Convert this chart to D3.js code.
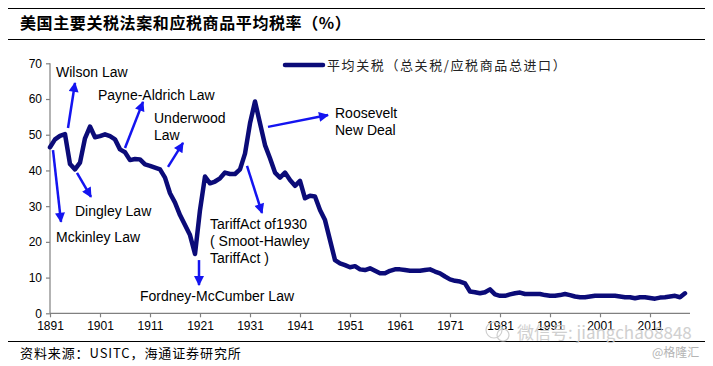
<!DOCTYPE html>
<html><head><meta charset="utf-8">
<script src="https://cdn.jsdelivr.net/npm/d3@7"></script>
<style>
body{margin:0;background:#fff;}
svg{display:block;}
</style></head>
<body>
<svg id="chart" width="713" height="366"></svg>
<script>
const titleText = "美国主要关税法案和应税商品平均税率（%）";
const legendLabel = "平均关税（总关税/应税商品总进口）";
const sourceText = "资料来源：USITC，海通证券研究所";
const years = d3.range(1891, 2019);
const tariff = [
 46.5,48.7,49.7,50.2,41.8,40.3,42.2,49.0,52.3,49.3,
 49.6,50.1,49.6,48.7,45.9,45.1,42.9,43.2,43.1,41.7,
 41.3,40.8,40.3,38.0,33.6,31.0,27.5,24.7,21.9,16.6,
 28.9,38.3,36.4,36.9,37.8,39.4,39.0,39.0,40.3,44.7,
 53.2,59.3,53.2,47.1,43.4,39.4,38.0,39.4,37.3,35.7,
 37.1,32.2,32.9,32.7,28.9,26.1,20.5,14.9,14.0,13.5,
 12.9,13.2,12.3,12.1,12.6,11.9,11.2,11.2,11.9,12.3,
 12.3,12.1,11.9,11.9,11.9,12.1,12.3,11.7,11.2,10.3,
 9.5,9.1,8.9,8.4,6.1,5.9,5.6,5.9,6.7,5.3,
 4.9,4.9,5.3,5.6,5.8,5.4,5.4,5.4,5.4,5.1,
 4.9,4.9,5.1,5.4,5.1,4.7,4.5,4.5,4.7,4.9,
 4.9,4.9,4.9,4.9,4.7,4.5,4.5,4.2,4.5,4.5,
 4.3,4.1,4.4,4.5,4.7,4.9,4.5,5.6
];
const xTicks = [1891,1901,1911,1921,1931,1941,1951,1961,1971,1981,1991,2001,2011];
const yTicks = [0,10,20,30,40,50,60,70];
// annotations: label lines, text anchor (year,value), arrow from/to (year,value)
const annLabels = [["Wilson Law"],["Payne-Aldrich Law"],["Underwood","Law"],["Dingley Law"],["Mckinley Law"],["Fordney-McCumber Law"],["TariffAct of1930","( Smoot-Hawley","TariffAct )"],["Roosevelt","New Deal"]];
const annTextPos = [[1892.2,66.2],[1900.6,59.7],[1911.8,53.3],[1896,27.2],[1892.2,20.0],[1909,3.4],[1923,23.6],[1948,54.7]];
const annArrowFrom = [[1894.6,51.9],[1906,46.3],[1914.6,41],[1896.4,39.3],[1891.6,45.7],[1920.8,14.9],[1930.4,41.3],[1934.6,52.2]];
const annArrowTo = [[1896,64.5],[1909.6,59.2],[1917.6,47.7],[1899.2,32.6],[1893.2,25.6],[1920.8,7.9],[1933.4,28.1],[1946.6,55.5]];

const svg = d3.select("#chart");
const x = d3.scaleLinear().domain([1891, 2019]).range([50, 690]);
const y = d3.scaleLinear().domain([0, 70]).range([313.3, 63.3]);
const latin = "'Liberation Sans', Arial, sans-serif";
const cjk = "'Noto Sans CJK SC', sans-serif";

// title & rules
svg.append("line").attr("x1",8).attr("x2",705).attr("y1",8.5).attr("y2",8.5).attr("stroke","#000").attr("stroke-width",1.2);
svg.append("line").attr("x1",8).attr("x2",705).attr("y1",39.5).attr("y2",39.5).attr("stroke","#000").attr("stroke-width",1.2);
svg.append("text").attr("x",20).attr("y",29).text(titleText)
  .attr("font-family",cjk).attr("font-weight","bold").attr("font-size",16).attr("letter-spacing",0.6).attr("fill","#000");
svg.append("line").attr("x1",8).attr("x2",705).attr("y1",341.5).attr("y2",341.5).attr("stroke","#000").attr("stroke-width",1.2);
svg.append("text").attr("x",20).attr("y",358).text(sourceText)
  .attr("font-family",cjk).attr("font-size",13).attr("letter-spacing",0.9).attr("fill","#000");

// axes
const axisColor = "#808080";
const gy = svg.append("g").attr("transform","translate(50,0)")
  .call(d3.axisLeft(y).tickValues(yTicks).tickSize(4).tickPadding(4).tickFormat(d3.format("d")));
const gx = svg.append("g").attr("transform","translate(0,313.3)")
  .call(d3.axisBottom(x).tickValues(xTicks).tickSize(4).tickPadding(4).tickFormat(d3.format("d")));
[gx,gy].forEach(g=>{
  g.select(".domain").attr("stroke",axisColor).attr("stroke-width",1.2);
  g.selectAll(".tick line").attr("stroke",axisColor).attr("stroke-width",1.2);
  g.selectAll("text").attr("font-family",latin).attr("font-size",12).attr("fill","#000");
});
gx.select(".domain").attr("d","M50,0H690");
gy.select(".domain").attr("d","M0,63.3V313.3");

// line
const data = years.map((yr,i)=>({yr, v: tariff[i]}));
svg.append("path").datum(data)
  .attr("fill","none").attr("stroke","#0b0b78").attr("stroke-width",4.5)
  .attr("stroke-linejoin","round").attr("stroke-linecap","round")
  .attr("d", d3.line().x(d=>x(d.yr)).y(d=>y(d.v)));

// arrows
const defs = svg.append("defs");
defs.append("marker").attr("id","ah").attr("viewBox","0 0 10 10").attr("refX",9).attr("refY",5)
  .attr("markerUnits","userSpaceOnUse").attr("markerWidth",11).attr("markerHeight",10).attr("orient","auto")
  .append("path").attr("d","M0,0L10,5L0,10Z").attr("fill","#1414f0");
annArrowFrom.forEach((f,i)=>{
  const t = annArrowTo[i];
  svg.append("line").attr("x1",x(f[0])).attr("y1",y(f[1])).attr("x2",x(t[0])).attr("y2",y(t[1]))
    .attr("stroke","#1414f0").attr("stroke-width",2.5).attr("marker-end","url(#ah)");
});
annLabels.forEach((lines,i)=>{
  const p = annTextPos[i];
  const t = svg.append("text").attr("font-family",latin).attr("font-size",14).attr("fill","#000");
  lines.forEach((s,j)=>{
    t.append("tspan").attr("x",x(p[0])).attr("y",y(p[1])+j*17).text(s);
  });
});

// legend
svg.append("line").attr("x1",285).attr("x2",323).attr("y1",65).attr("y2",65)
  .attr("stroke","#0b0b78").attr("stroke-width",4.5).attr("stroke-linecap","round");
svg.append("text").attr("x",327).attr("y",70).text(legendLabel)
  .attr("font-family",cjk).attr("font-size",13).attr("letter-spacing",1.6).attr("fill","#222");

// watermark
svg.append("text").attr("x",517).attr("y",339).text("微信号: jiangchao8848")
  .attr("font-family",cjk).attr("font-size",17).attr("fill","#c8c8c8").attr("opacity",0.85);
svg.append("circle").attr("cx",494).attr("cy",330).attr("r",8).attr("fill","none").attr("stroke","#cfcfcf").attr("stroke-width",1.2);
svg.append("circle").attr("cx",503).attr("cy",335).attr("r",6).attr("fill","none").attr("stroke","#cfcfcf").attr("stroke-width",1.2);
svg.append("text").attr("x",652).attr("y",357).text("@格隆汇")
  .attr("font-family",cjk).attr("font-size",12).attr("fill","#b4b4b4");
</script>
</body></html>
